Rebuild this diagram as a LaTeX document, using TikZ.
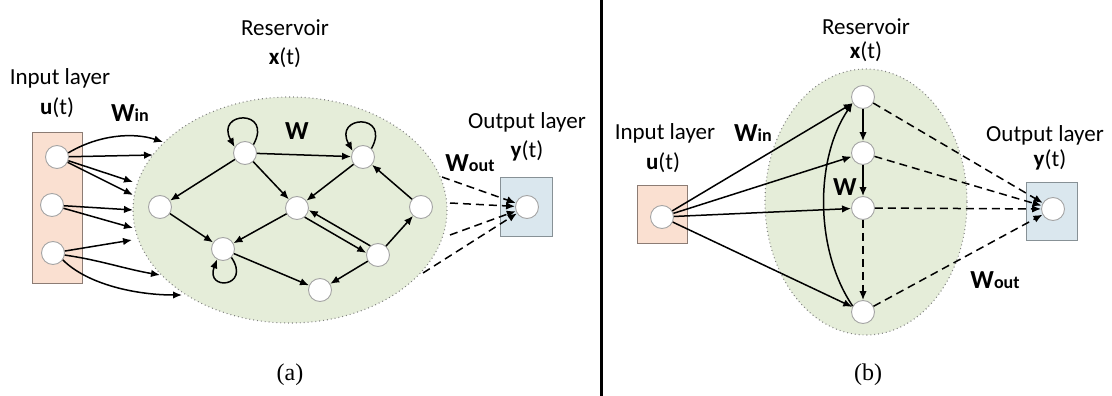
\documentclass[tikz,border=0pt]{standalone}
\usepackage{fontspec}
\setmainfont{Carlito}
\newfontfamily\capfont{Liberation Serif}
\usetikzlibrary{arrows.meta,calc}

\definecolor{resfill}{RGB}{229,237,217}
\definecolor{infill}{RGB}{250,224,209}
\definecolor{inedge}{RGB}{140,124,116}
\definecolor{outfill}{RGB}{218,231,238}
\definecolor{outedge}{RGB}{135,145,150}
\definecolor{nodeedge}{RGB}{165,165,165}

\tikzset{
  neuron/.style={circle, draw=nodeedge, fill=white, line width=0.9pt,
                 minimum size=23pt, inner sep=0pt},
  arr/.style={line width=1.5pt, -{Latex[length=9pt,width=7.5pt]}},
  darr/.style={arr, dash pattern=on 8pt off 5pt},
  reservoir/.style={draw=gray, fill=resfill, line width=1.1pt,
                    dash pattern=on 0.9pt off 3pt},
  inbox/.style={draw=inedge, fill=infill, line width=1pt},
  outbox/.style={draw=outedge, fill=outfill, line width=1pt},
  lbl/.style={font=\fontsize{23}{26}\selectfont, inner sep=0pt},
  wlbl/.style={font=\fontsize{26}{28}\selectfont\bfseries, inner sep=0pt},
  caplbl/.style={font=\capfont\fontsize{24}{26}\selectfont, inner sep=0pt},
}

\newcommand\subsz{\fontsize{18}{20}\selectfont}

\begin{document}
\begin{tikzpicture}[x=1pt, y=-1pt]
\useasboundingbox (0,0) rectangle (1112,396);

% ---------------- panel (a): random reservoir ----------------
\draw[inbox] (32,132) rectangle (82,283);
\draw[reservoir] (290,210) ellipse [x radius=157, y radius=113];
\draw[outbox] (500,177) rectangle (552,236);

\node[neuron] (u1) at (57,157) {};
\node[neuron] (u2) at (52,205) {};
\node[neuron] (u3) at (53,253) {};

\node[neuron] (r1) at (245,153) {};
\node[neuron] (r2) at (363,157) {};
\node[neuron] (r3) at (160,207) {};
\node[neuron] (r4) at (297,208) {};
\node[neuron] (r5) at (421,207) {};
\node[neuron] (r6) at (223,249) {};
\node[neuron] (r7) at (378,255) {};
\node[neuron] (r8) at (320,290) {};

\node[neuron] (ya) at (527,207) {};

% input weights ending on the reservoir rim
\coordinate (i1) at (163,142);
\coordinate (i2) at (153,155);
\coordinate (i3) at (133,182);
\coordinate (i4) at (133,195);
\coordinate (i5) at (133,210);
\coordinate (i6) at (133,228);
\coordinate (i7) at (132,240);
\coordinate (i8) at (160,275);
\coordinate (i9) at (182,295);

\draw[arr] (u1.20) .. controls +(30,-18) and +(-30,-10) .. (i1);
\draw[arr] (u1) -- (i2);
\draw[arr] (u1) -- (i3);
\draw[arr] (u1) -- (i4);
\draw[arr] (u2) -- (i5);
\draw[arr] (u2) -- (i6);
\draw[arr] (u3) -- (i7);
\draw[arr] (u3.-10) .. controls +(35,5) and +(-35,-6) .. (i8);
\draw[arr] (u3.-35) .. controls +(25,25) and +(-45,0) .. (i9);

% recurrent connections
\draw[arr] (r1) -- (r2);
\draw[arr] (r1) -- (r3);
\draw[arr] (r1) -- (r4);
\draw[arr] (r2) -- (r4);
\draw[arr] (r5) -- (r2);
\draw[arr] (r3) -- (r6);
\draw[arr] (r4) -- (r6);
\draw[arr] (r4.-50) -- (r7.170);
\draw[arr] (r7.130) -- (r4.-10);
\draw[arr] (r7) -- (r5);
\draw[arr] (r7) -- (r8);
\draw[arr] (r6) -- (r8);

% self loops
\draw[arr] (r1.45) .. controls +(20,-36) and +(-20,-36) .. (r1.150);
\draw[arr] (r2.45) .. controls +(20,-36) and +(-20,-36) .. (r2.150);
\draw[arr] (r6.-45) .. controls +(20,30) and +(-12,32) .. (r6.-120);

% readout
\coordinate (o1) at (442,177);
\coordinate (o2) at (450,203);
\coordinate (o3) at (450,235);
\coordinate (o4) at (423,273);
\draw[darr] (o1) -- (ya);
\draw[darr] (o2) -- (ya);
\draw[darr] (o3) -- (ya);
\draw[darr] (o4) -- (ya);

% labels
\node[lbl] (resa) at (285,28) {Reservoir};
\node[lbl] (xa) at (285,58) {\textbf{x}(t)};
\node[lbl] (ina) at (60,78) {Input layer};
\node[lbl] (ua) at (57,108) {\textbf{u}(t)};
\node[wlbl] (wina) at (130,113) {W\subsz in};
\node[wlbl] (wa) at (297,131) {W};
\node[lbl] (outa) at (527,122) {Output layer};
\node[lbl] (yta) at (527,151) {\textbf{y}(t)};
\node[wlbl] (wouta) at (470,163) {W\subsz out};
\node[caplbl] (capa) at (290,375) {(a)};

% separator
\draw[line width=3pt] (601,0) -- (601,396);

% ---------------- panel (b): delay-line reservoir ----------------
\draw[inbox] (637,185) rectangle (687,243);
\draw[reservoir] (866,202) ellipse [x radius=101, y radius=133];
\draw[outbox] (1026,182) rectangle (1077,240);

\node[neuron] (ub) at (662,217) {};
\node[neuron] (n1) at (863,97) {};
\node[neuron] (n2) at (863,153) {};
\node[neuron] (n3) at (863,208) {};
\node[neuron] (n4) at (863,312) {};
\node[neuron] (yb) at (1053,209) {};

\draw[arr] (ub) -- (n1);
\draw[arr] (ub) -- (n2);
\draw[arr] (ub) -- (n3);
\draw[arr] (ub) -- (n4);

\draw[arr] (n1) -- (n2);
\draw[arr] (n2) -- (n3);
\draw[darr] (n3) -- (n4);
\draw[arr] (n4.150) .. controls +(-38,-56) and +(-38,56) .. (n1.210);

\draw[darr] (n1) -- (yb);
\draw[darr] (n2) -- (yb);
\draw[darr] (n3) -- (yb);
\draw[darr] (n4) -- (yb);

\node[lbl] (resb) at (866,27) {Reservoir};
\node[lbl] (xb) at (866,52) {\textbf{x}(t)};
\node[lbl] (inb) at (665,133) {Input layer};
\node[lbl] (ubl) at (663,163) {\textbf{u}(t)};
\node[wlbl] (winb) at (753,133) {W\subsz in};
\node[wlbl] (wb) at (845,187) {W};
\node[lbl] (outb) at (1045,135) {Output layer};
\node[lbl] (ytb) at (1050,160) {\textbf{y}(t)};
\node[wlbl] (woutb) at (995,280) {W\subsz out};
\node[caplbl] (capb) at (868,375) {(b)};
\end{tikzpicture}
\end{document}
